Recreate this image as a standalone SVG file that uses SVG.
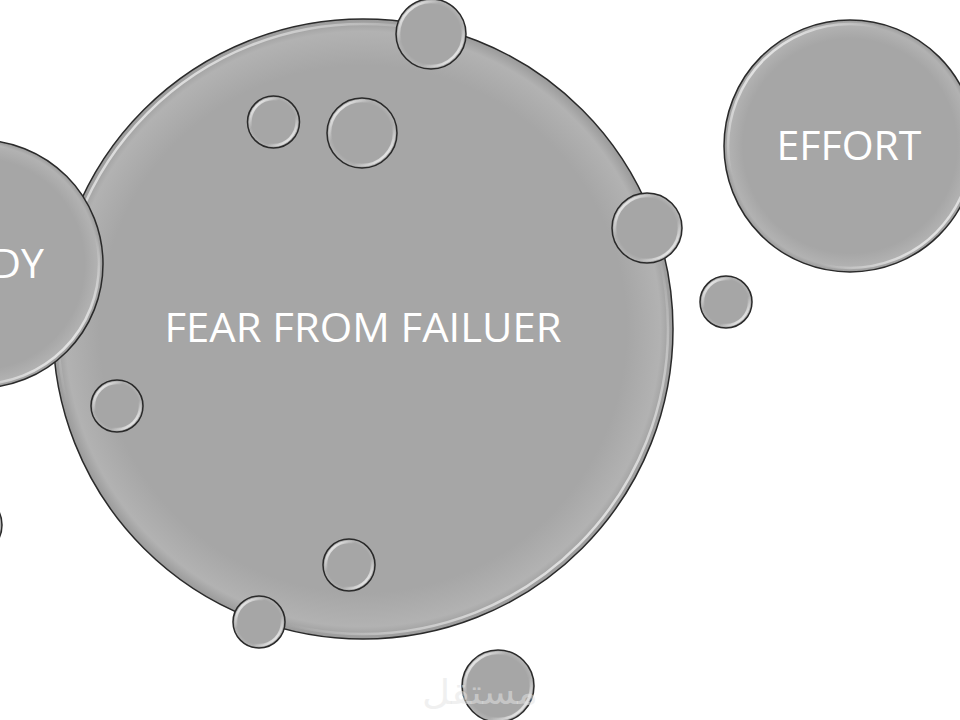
<svg xmlns="http://www.w3.org/2000/svg" width="960" height="720" viewBox="0 0 960 720">
<defs>
<linearGradient id="rim" x1="0" y1="0" x2="1" y2="1">
<stop offset="0.05" stop-color="#ffffff" stop-opacity="1"/>
<stop offset="0.32" stop-color="#ffffff" stop-opacity="0"/>
<stop offset="0.68" stop-color="#ffffff" stop-opacity="0"/>
<stop offset="0.95" stop-color="#ffffff" stop-opacity="1"/>
</linearGradient>
<radialGradient id="shade" cx="0.5" cy="0.5" r="0.5">
<stop offset="0.85" stop-color="#a6a6a6"/>
<stop offset="0.96" stop-color="#b2b2b2"/>
<stop offset="1" stop-color="#9a9a9a"/>
</radialGradient>
</defs>
<style>
.c{fill:url(#shade);stroke:#2a2a2a;stroke-width:1.5}
.r{fill:none;stroke:url(#rim);stroke-width:2.5}
.t{font-family:"Open Sans","Liberation Sans",sans-serif;font-size:41px;fill:#ffffff;text-anchor:middle}
</style>
<rect width="960" height="720" fill="#ffffff"/>
<g id="fear">
<circle class="c" cx="363" cy="329" r="310"/>
<circle class="r" cx="363" cy="329" r="305"/>
<text class="t" x="363" y="342" textLength="397" lengthAdjust="spacingAndGlyphs">FEAR FROM FAILUER</text>
</g>
<g id="study">
<circle class="c" cx="-21" cy="264" r="124"/>
<circle class="r" cx="-21" cy="264" r="120"/>
<text class="t" x="44" y="278" style="text-anchor:end">DY</text>
</g>
<g id="effort">
<circle class="c" cx="850" cy="146" r="126"/>
<circle class="r" cx="850" cy="146" r="122"/>
<text class="t" x="849" y="160">EFFORT</text>
</g>
<g id="edge-bubble">
<circle class="c" cx="-28" cy="525" r="30"/>
<circle class="r" cx="-28" cy="525" r="27"/>
</g>
<g id="bubbles">
<circle class="c" cx="431" cy="34" r="35"/><circle class="r" cx="431" cy="34" r="32"/>
<circle class="c" cx="273.5" cy="122" r="26"/><circle class="r" cx="273.5" cy="122" r="23"/>
<circle class="c" cx="362" cy="133" r="35"/><circle class="r" cx="362" cy="133" r="32"/>
<circle class="c" cx="647" cy="228" r="35"/><circle class="r" cx="647" cy="228" r="32"/>
<circle class="c" cx="726" cy="302" r="26"/><circle class="r" cx="726" cy="302" r="23"/>
<circle class="c" cx="117" cy="406" r="26"/><circle class="r" cx="117" cy="406" r="23"/>
<circle class="c" cx="349" cy="565" r="26"/><circle class="r" cx="349" cy="565" r="23"/>
<circle class="c" cx="259" cy="622" r="26"/><circle class="r" cx="259" cy="622" r="23"/>
<circle class="c" cx="498" cy="686" r="36"/><circle class="r" cx="498" cy="686" r="33"/>
</g>
<text x="480" y="704" textLength="116" lengthAdjust="spacingAndGlyphs" style="font-family:'DejaVu Sans',sans-serif;font-size:34px;fill:#e4e4e4;fill-opacity:0.55;text-anchor:middle">مستقل</text>
</svg>
